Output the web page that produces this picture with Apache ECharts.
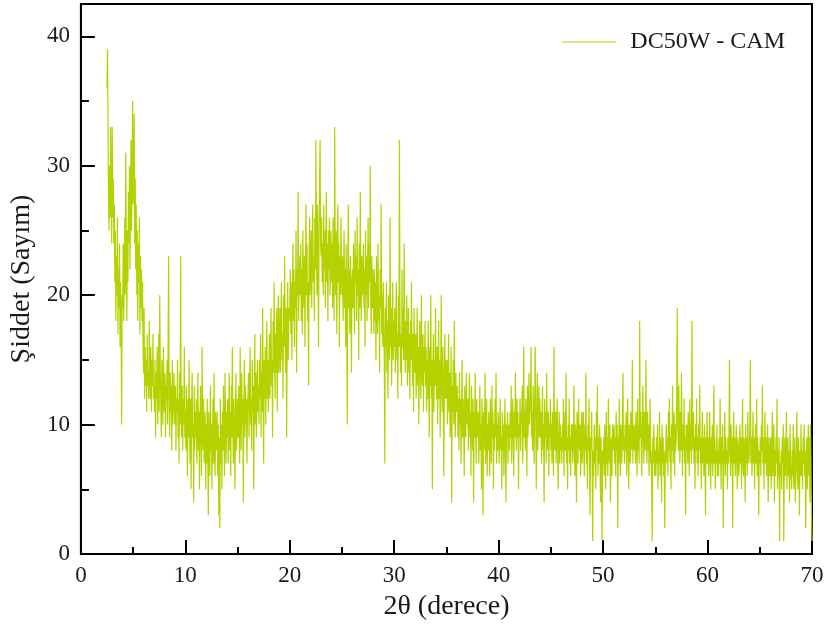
<!DOCTYPE html>
<html>
<head>
<meta charset="utf-8">
<script src="https://cdn.jsdelivr.net/npm/echarts@6/dist/echarts.min.js"></script>
<style>html,body{margin:0;padding:0;background:#fff}#c{width:831px;height:637px}</style>
</head>
<body>
<div id="c"></div>
<script>
const seriesName = 'DC50W - CAM';
const twoThetaStart = 2.5;
const twoThetaStep = 0.05;
const xTicks = [0, 10, 20, 30, 40, 50, 60, 70];
const yTicks = [0, 10, 20, 30, 40];
const yMinorTicks = [5, 15, 25, 35];
const counts = [
36,39,33,27,25,30,26,33,28,24,
33,26,29,24,27,21,25,18,23,20,26,17,22,19,24,16,21,18,10,20,
19,24,18,22,26,20,31,23,18,25,21,28,24,30,22,27,32,25,29,35,
27,31,34,24,29,22,27,20,25,18,24,21,26,17,23,19,22,18,21,16,
14,19,12,16,13,15,11,17,13,14,12,18,14,12,16,11,15,13,17,12,
13,11,15,9,14,12,16,10,13,17,11,20,14,12,9,15,13,10,16,12,
11,14,9,13,12,15,10,16,23,12,9,14,11,13,8,15,10,12,14,11,
10,13,8,12,11,15,9,12,7,14,10,23,11,9,13,8,12,10,16,9,
11,8,13,10,6,12,9,15,10,7,12,5,11,14,9,10,4,13,8,11,
9,12,7,10,14,8,11,5,10,13,9,6,16,10,8,12,7,9,11,5,
10,7,12,8,3,11,9,6,13,8,10,5,9,12,7,14,8,6,11,9,
8,11,6,10,3,9,2,12,7,10,5,11,8,13,9,6,14,10,7,11,
9,12,7,10,14,8,11,6,13,9,16,10,7,12,9,5,11,14,8,10,
12,9,13,10,7,16,11,8,14,10,12,4,11,15,9,13,10,12,7,11,
11,14,9,13,16,10,12,8,15,11,13,5,12,17,10,14,9,12,15,11,
13,10,15,12,17,9,14,11,19,13,7,15,12,16,10,14,18,12,15,11,
14,17,12,16,19,13,15,9,18,14,21,15,12,17,14,19,11,16,20,14,
16,19,14,18,21,15,17,12,20,16,23,18,14,19,9,17,21,15,19,18,
19,22,17,21,15,20,24,18,22,16,21,19,25,14,22,20,28,18,23,21,
20,24,18,22,17,25,21,19,23,16,22,27,20,24,18,21,13,23,26,20,
22,25,19,24,27,21,23,18,26,22,32,24,20,27,23,16,25,28,32,24,
23,26,21,24,20,27,22,25,19,23,28,21,24,18,25,22,26,20,23,25,
21,24,19,26,22,18,33,23,20,25,17,22,27,21,24,16,23,20,26,22,
20,23,18,21,25,19,22,16,24,20,10,21,27,19,22,17,23,20,14,21,
22,19,24,20,17,25,21,23,18,26,20,22,15,24,19,28,21,18,23,20,
21,24,19,22,16,25,20,23,18,22,26,19,24,21,30,20,17,23,19,22,
20,17,22,18,21,15,23,19,17,24,18,20,14,22,19,27,17,20,16,21,
18,15,7,19,16,21,14,18,12,20,17,15,26,16,19,13,17,21,15,18,
16,19,14,18,21,15,17,12,20,16,32,18,14,17,13,22,16,19,15,24,
17,14,18,15,20,13,16,19,14,17,12,18,15,21,16,13,17,11,19,15,
14,17,12,15,19,13,16,10,15,18,14,12,20,15,13,17,11,16,14,18,
13,16,11,15,12,18,14,9,16,13,20,12,15,5,14,17,11,15,13,19,
14,12,16,10,13,18,12,15,9,14,20,13,11,16,12,6,14,17,12,15,
12,15,10,13,17,11,14,9,12,16,4,13,11,15,10,18,12,9,14,11,
11,13,9,12,8,14,10,12,7,11,15,9,12,10,6,13,11,9,14,10,
10,12,8,11,14,9,11,6,13,10,8,12,4,11,9,14,10,7,12,9,
9,11,7,10,13,8,10,5,12,9,3,11,8,10,14,7,9,12,6,10,
8,11,9,6,12,10,7,13,9,11,5,10,8,12,9,14,7,10,8,11,
9,7,10,12,8,9,5,11,8,10,6,9,12,8,4,10,9,11,7,10,
10,8,11,9,13,7,10,12,9,6,11,9,14,10,8,12,9,11,5,10,
9,12,8,11,10,13,7,10,16,9,11,8,12,10,6,13,9,11,14,10,
10,12,16,9,11,8,13,10,7,12,16,11,5,10,14,8,11,13,9,12,
9,11,7,10,13,8,10,4,12,9,11,7,14,9,8,11,6,10,9,12,
8,10,7,11,9,6,16,9,8,11,7,10,12,8,5,9,11,7,10,8,
9,7,10,8,12,6,9,11,8,14,7,9,5,10,8,12,7,9,6,10,
8,10,7,9,13,8,6,10,9,4,11,8,7,12,9,8,10,6,9,11,
7,9,11,8,6,10,8,14,7,9,5,10,8,12,7,3,9,8,11,7,
1,8,6,10,7,9,5,11,8,13,6,9,7,10,8,4,9,6,1,8,
7,9,6,10,8,5,11,7,9,6,12,8,7,10,4,8,9,6,10,8,
8,10,7,9,6,11,8,10,2,9,7,12,8,6,10,9,7,11,14,8,
9,7,10,8,11,6,9,12,8,5,10,8,7,11,9,8,15,7,10,9,
8,10,7,11,9,6,12,8,10,7,18,9,11,8,6,10,13,9,7,11,
10,8,15,9,7,11,8,10,6,9,12,7,8,5,1,9,7,10,8,6,
8,6,9,7,10,5,8,7,11,6,9,8,4,10,7,9,6,8,2,7,
8,10,7,9,6,11,8,12,7,9,5,10,8,13,7,9,11,6,10,8,
9,12,19,10,8,13,9,7,11,8,14,9,6,10,8,12,7,9,3,10,
8,10,7,11,9,6,12,8,10,7,18,9,8,11,7,9,5,10,8,12,
7,9,6,10,8,13,7,9,5,8,11,7,9,6,10,8,3,9,7,11,
7,9,6,8,11,7,5,9,7,10,6,8,13,7,9,5,8,7,10,6,
8,6,9,7,12,8,5,9,7,10,2,8,7,11,6,9,7,8,5,9,
7,9,15,8,6,10,7,9,2,8,11,7,9,6,8,10,7,5,9,8,
6,8,10,7,9,5,8,12,7,6,9,8,4,10,7,9,6,11,8,7,
8,10,15,7,9,6,8,11,7,9,5,8,10,7,12,6,9,7,3,8,
7,9,6,10,8,13,7,9,5,8,11,7,9,6,8,10,4,7,9,6,
7,9,5,8,11,6,7,10,4,8,6,9,7,12,5,8,6,9,1,7,
6,8,5,9,7,10,1,7,9,6,8,11,5,7,9,6,8,4,10,7,
7,5,8,6,10,5,7,9,4,6,8,11,6,5,9,7,3,8,6,10,
6,8,5,9,7,10,6,8,2,7,9,5,8,10,6,9,4,10,7,3,
1
];

const points = counts.map((v, i) => [+(twoThetaStart + i * twoThetaStep).toFixed(2), v]);
const serif = "'Liberation Serif', 'Times New Roman', serif";
const lineColor = '#b3d200';
const chart = echarts.init(document.getElementById('c'), null, {renderer: 'canvas'});
chart.setOption({
  animation: false,
  backgroundColor: '#fff',
  grid: {left: 79, right: 19, top: 4, bottom: 83, show: true, borderColor: '#000', borderWidth: 2, backgroundColor: 'transparent'},
  legend: {
    right: 41, top: 25, itemWidth: 54, itemHeight: 1.2, itemGap: 0,
    icon: 'rect',
    textStyle: {fontFamily: serif, fontSize: 24, color: '#1a1a1a', padding: [0, 0, 0, 9]},
    data: [{name: seriesName, icon: 'rect'}]
  },
  xAxis: {
    type: 'value', min: xTicks[0], max: xTicks[xTicks.length - 1], interval: 10,
    name: '2θ (derece)', nameLocation: 'middle', nameGap: 39,
    nameTextStyle: {fontFamily: serif, fontSize: 28, color: '#1a1a1a'},
    axisLine: {show: true, lineStyle: {color: '#000', width: 2}},
    axisTick: {show: true, inside: true, length: 14, lineStyle: {color: '#000', width: 2}},
    minorTick: {show: true, splitNumber: 2, length: 7, lineStyle: {color: '#000', width: 2}},
    axisLabel: {fontFamily: serif, fontSize: 23, color: '#1a1a1a', margin: 10},
    splitLine: {show: false}, minorSplitLine: {show: false}
  },
  yAxis: [{
    type: 'value', min: 0, max: 42.5, interval: 10, position: 'left',
    name: 'Şiddet (Sayım)', nameLocation: 'middle', nameGap: 32,
    nameTextStyle: {fontFamily: serif, fontSize: 28, color: '#1a1a1a'},
    axisLine: {show: true, lineStyle: {color: '#000', width: 2}},
    axisTick: {show: true, inside: true, length: 14, customValues: yTicks, lineStyle: {color: '#000', width: 2}},
    axisLabel: {fontFamily: serif, fontSize: 23, color: '#1a1a1a', margin: 11, customValues: yTicks},
    splitLine: {show: false}
  }, {
    type: 'value', min: 0, max: 42.5, interval: 5, position: 'left',
    axisLine: {show: false},
    axisTick: {show: true, inside: true, length: 8, customValues: yMinorTicks, lineStyle: {color: '#000', width: 2}},
    axisLabel: {show: false},
    splitLine: {show: false}
  }],
  series: [{
    name: seriesName, type: 'line', data: points, yAxisIndex: 0,
    symbol: 'none', showSymbol: false,
    lineStyle: {color: lineColor, width: 1.2},
    itemStyle: {color: lineColor}
  }]
});
</script>
</body>
</html>
